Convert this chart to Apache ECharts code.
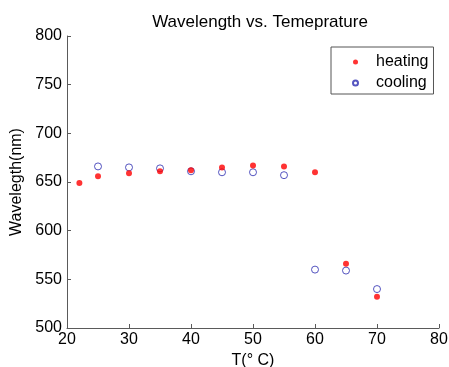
<!DOCTYPE html>
<html>
<head>
<meta charset="utf-8">
<script src="https://cdn.jsdelivr.net/npm/echarts@6/dist/echarts.min.js"></script>
<style>
html,body{margin:0;padding:0;background:#fff;}
#main{width:449px;height:367px;}
</style>
</head>
<body>
<div id="main"></div>
<script>
// data
var heatT  = [22, 25, 30, 35, 40, 45, 50, 55, 60, 65, 70];
var heatWl = [649, 656, 659, 661, 662, 665, 667, 666, 660, 566, 532];
var coolT  = [25, 30, 35, 40, 45, 50, 55, 60, 65, 70];
var coolWl = [666, 665, 664, 661, 660, 660, 657, 560, 559, 540];

function pairs(xs, ys) {
    var out = [];
    for (var i = 0; i < xs.length; i++) out.push([xs[i], ys[i]]);
    return out;
}

var font = 'Liberation Sans, Arial, sans-serif';
var axisCol = '#5a5a5a';

var chart = echarts.init(document.getElementById('main'));
var option = {
    animation: false,
    backgroundColor: '#fff',
    title: {
        text: 'Wavelength vs. Temeprature',
        left: 255,
        textAlign: 'center',
        top: 9,
        textStyle: {fontFamily: font, fontSize: 17, fontWeight: 'normal', color: '#000'}
    },
    legend: {
        orient: 'vertical',
        left: 331,
        top: 47,
        padding: [7, 5, 3, 21],
        itemGap: 5,
        itemWidth: 31,   // wide slot so text starts far from the small marker
        itemHeight: 5,
        borderColor: '#555',
        borderWidth: 1,
        textStyle: {fontFamily: font, fontSize: 16, color: '#000'},
        data: ['heating', 'cooling']
    },
    grid: {left: 67, right: 10, top: 36, bottom: 39, outerBoundsMode: 'none'},
    xAxis: {
        type: 'value',
        min: 20, max: 80, interval: 10,
        name: 'T(° C)',
        nameLocation: 'middle',
        nameGap: 20,
        nameTextStyle: {fontFamily: font, fontSize: 16, color: '#000'},
        axisLine: {show: true, lineStyle: {color: axisCol, width: 1}},
        axisTick: {inside: true, length: 4, lineStyle: {color: axisCol}},
        axisLabel: {fontFamily: font, fontSize: 16, color: '#000', margin: 4},
        splitLine: {show: false}
    },
    yAxis: {
        type: 'value',
        min: 500, max: 800, interval: 50,
        name: 'Wavelegth(nm)',
        nameLocation: 'middle',
        nameGap: 37,
        nameTextStyle: {fontFamily: font, fontSize: 16, color: '#000'},
        axisLine: {show: true, lineStyle: {color: axisCol, width: 1}},
        axisTick: {inside: true, length: 4, lineStyle: {color: axisCol}},
        axisLabel: {fontFamily: font, fontSize: 16, color: '#000', margin: 5},
        splitLine: {show: false}
    },
    series: [
        {
            name: 'heating',
            type: 'scatter',
            symbol: 'circle',
            symbolSize: 6,
            itemStyle: {color: '#ff0000'},
            data: pairs(heatT, heatWl),
            z: 3
        },
        {
            name: 'cooling',
            type: 'scatter',
            symbol: 'circle',
            symbolSize: 7,
            itemStyle: {color: 'rgba(0,0,0,0)', borderColor: '#2a2ab0', borderWidth: 1},
            data: pairs(coolT, coolWl),
            z: 2
        }
    ]
};
chart.setOption(option);
</script>
</body>
</html>
